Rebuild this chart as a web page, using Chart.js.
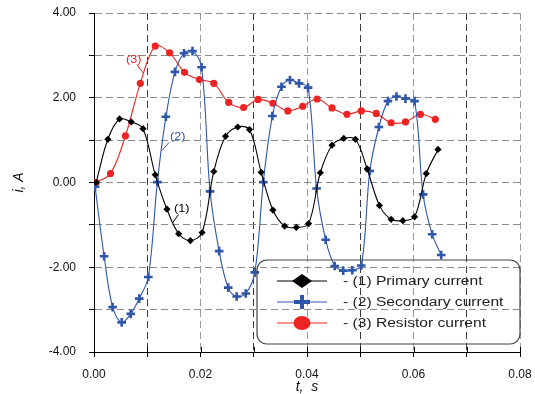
<!DOCTYPE html>
<html>
<head>
<meta charset="utf-8">
<script src="https://cdn.jsdelivr.net/npm/chart.js@4.4.0/dist/chart.umd.min.js"></script>
<style>
  html, body { margin: 0; padding: 0; background: #fff; }
</style>
</head>
<body>
<canvas id="currentChart" width="535" height="394"></canvas>
<script>
// time (s) and current (A)
const tPrimary = [0.0004, 0.0026, 0.0048, 0.0070, 0.0092, 0.0115, 0.0137, 0.0159, 0.0181, 0.0203,
  0.0225, 0.0247, 0.0270, 0.0292, 0.0314, 0.0336, 0.0358, 0.0380, 0.0403, 0.0425,
  0.0447, 0.0469, 0.0491, 0.0513, 0.0536, 0.0558, 0.0580, 0.0602, 0.0624, 0.0646];
const iPrimary = [0.00, 1.02, 1.50, 1.43, 1.27, 0.18, -0.63, -1.21, -1.37, -1.18,
  0.26, 1.09, 1.31, 1.25, 0.24, -0.65, -1.03, -1.06, -0.97, 0.23,
  0.88, 1.04, 1.02, 0.32, -0.54, -0.87, -0.90, -0.81, 0.21, 0.78];

const tSecondary = [0.0002, 0.0019, 0.0035, 0.0052, 0.0069, 0.0085, 0.0102, 0.0119, 0.0135, 0.0152,
  0.0169, 0.0185, 0.0202, 0.0218, 0.0235, 0.0252, 0.0268, 0.0285, 0.0302, 0.0318,
  0.0335, 0.0352, 0.0368, 0.0385, 0.0402, 0.0418, 0.0435, 0.0452, 0.0468, 0.0485,
  0.0502, 0.0518, 0.0535, 0.0552, 0.0568, 0.0585, 0.0602, 0.0618, 0.0635, 0.0652];
const iSecondary = [-0.10, -1.74, -2.94, -3.30, -3.10, -2.74, -2.23, 0.01, 1.55, 2.61,
  3.05, 3.10, 2.72, -0.21, -1.62, -2.48, -2.69, -2.62, -2.12, 0.01,
  1.57, 2.26, 2.42, 2.34, 2.24, -0.14, -1.35, -1.97, -2.08, -2.07,
  -1.96, 0.27, 1.31, 1.92, 2.03, 1.98, 1.92, -0.28, -1.22, -1.71];

const tResistor = [0.0004, 0.0031, 0.0059, 0.0087, 0.0115, 0.0142, 0.0170, 0.0198, 0.0225, 0.0253,
  0.0281, 0.0308, 0.0336, 0.0364, 0.0392, 0.0419, 0.0447, 0.0475, 0.0502, 0.0530,
  0.0558, 0.0585, 0.0613, 0.0641];
const iResistor = [0.00, 0.21, 1.10, 2.34, 3.22, 3.06, 2.60, 2.43, 2.34, 1.89,
  1.77, 1.96, 1.87, 1.69, 1.80, 1.97, 1.76, 1.61, 1.69, 1.63,
  1.41, 1.43, 1.61, 1.49];

const seriesNames = ['- (1) Primary current', '- (2) Secondary current', '- (3) Resistor current'];
const xTickLabels = ['0.00', '0.02', '0.04', '0.06', '0.08'];
const yTickLabels = ['-4.00', '-2.00', '0.00', '2.00', '4.00'];

const BLACK = '#000000';
const BLUE = '#2f56a8';
const RED = '#ee2424';
const FONT = '"Liberation Sans", Arial, sans-serif';

function toPoints(ts, vs) {
  return ts.map((t, i) => ({ x: t, y: vs[i] }));
}

// stretched text, the picture's lettering is a bit wide
function wideText(ctx, text, x, y, sx) {
  ctx.save();
  ctx.translate(x, y);
  ctx.scale(sx, 1);
  ctx.fillText(text, 0, 0);
  ctx.restore();
}

const overlayPlugin = {
  id: 'overlay',
  afterDatasetsDraw(chart) {
    const ctx = chart.ctx;
    ctx.save();

    // x ticks also poke up into the plot
    const xs = chart.scales.x;
    const bottom = chart.chartArea.bottom;
    ctx.strokeStyle = '#000';
    ctx.lineWidth = 1;
    xs.ticks.forEach(tk => {
      const px = Math.round(xs.getPixelForValue(tk.value)) + 0.5;
      ctx.beginPath();
      ctx.moveTo(px, bottom);
      ctx.lineTo(px, bottom - 5);
      ctx.stroke();
    });

    // curve labels with leader lines
    ctx.font = '11px ' + FONT;
    ctx.textBaseline = 'middle';
    const notes = [
      { txt: '(3)', color: RED, tx: 126, ty: 60, line: [137, 64.5, 143.5, 73.5] },
      { txt: '(2)', color: BLUE, tx: 170, ty: 137, line: [169, 142.5, 162, 150.5] },
      { txt: '(1)', color: BLACK, tx: 174, ty: 209, line: [178.5, 214.5, 172.5, 223] }
    ];
    notes.forEach(n => {
      ctx.fillStyle = n.color;
      ctx.strokeStyle = n.color;
      wideText(ctx, n.txt, n.tx, n.ty, 1.15);
      ctx.beginPath();
      ctx.moveTo(n.line[0], n.line[1]);
      ctx.lineTo(n.line[2], n.line[3]);
      ctx.stroke();
    });

    // legend box
    const bx = 257, by = 260, bw = 263, bh = 84, r = 10;
    ctx.strokeStyle = '#444';
    ctx.lineWidth = 1.2;
    ctx.beginPath();
    ctx.roundRect(bx, by, bw, bh, r);
    ctx.stroke();

    const rows = [281, 302, 323];
    const colors = [BLACK, BLUE, RED];
    rows.forEach((yy, k) => {
      ctx.strokeStyle = colors[k];
      ctx.fillStyle = colors[k];
      ctx.lineWidth = 1;
      ctx.beginPath();
      ctx.moveTo(277, yy);
      ctx.lineTo(327, yy);
      ctx.stroke();
      const cx = 302;
      if (k === 0) {
        ctx.beginPath();
        ctx.moveTo(cx - 10, yy);
        ctx.lineTo(cx, yy - 7);
        ctx.lineTo(cx + 10, yy);
        ctx.lineTo(cx, yy + 7);
        ctx.closePath();
        ctx.fill();
      } else if (k === 1) {
        ctx.lineWidth = 4;
        ctx.beginPath();
        ctx.moveTo(cx - 8, yy);
        ctx.lineTo(cx + 8, yy);
        ctx.moveTo(cx, yy - 7);
        ctx.lineTo(cx, yy + 7);
        ctx.stroke();
      } else {
        ctx.beginPath();
        ctx.ellipse(cx, yy, 8.5, 7, 0, 0, Math.PI * 2);
        ctx.fill();
      }
      ctx.fillStyle = '#222';
      ctx.font = '12px ' + FONT;
      wideText(ctx, seriesNames[k], 343, yy + 1, 1.3);
    });

    ctx.restore();
  }
};

const ctx = document.getElementById('currentChart').getContext('2d');

const chart = new Chart(ctx, {
  type: 'line',
  data: {
    datasets: [
      {
        label: seriesNames[0],
        data: toPoints(tPrimary, iPrimary),
        borderColor: BLACK,
        backgroundColor: BLACK,
        borderWidth: 1.1,
        pointStyle: 'rectRot',
        pointRadius: 3.6,
        pointBorderWidth: 0,
        tension: 0.35
      },
      {
        label: seriesNames[1],
        data: toPoints(tSecondary, iSecondary),
        borderColor: BLUE,
        backgroundColor: BLUE,
        borderWidth: 1.1,
        pointStyle: 'cross',
        pointRadius: 4.3,
        pointBorderWidth: 2.6,
        tension: 0.35
      },
      {
        label: seriesNames[2],
        data: toPoints(tResistor, iResistor),
        borderColor: RED,
        backgroundColor: RED,
        borderWidth: 1.1,
        pointStyle: 'circle',
        pointRadius: 3.6,
        pointBorderWidth: 0,
        tension: 0.35
      }
    ]
  },
  options: {
    responsive: false,
    animation: false,
    devicePixelRatio: 1,
    layout: { padding: { top: 13, right: 15, left: 0, bottom: 0 } },
    plugins: {
      legend: { display: false },
      tooltip: { enabled: false }
    },
    scales: {
      x: {
        type: 'linear',
        min: 0,
        max: 0.08,
        afterFit(scale) {
          scale.height = 42;
          scale.paddingLeft = 0;
          scale.paddingRight = 0;
        },
        ticks: {
          stepSize: 0.01,
          padding: 10,
          color: '#111',
          font: { family: FONT, size: 12 },
          maxRotation: 0,
          autoSkip: false,
          callback: (v) => {
            const s = v.toFixed(2);
            return xTickLabels.includes(s) ? s : '';
          }
        },
        grid: {
          color: (c) => (Math.round(c.tick.value * 100) % 2 === 1 ? '#3a3a3a' : '#9a9a9a'),
          lineWidth: 1,
          tickLength: 5,
          tickColor: '#000'
        },
        border: { display: true, color: '#000', width: 1, dash: [7, 4] },
        title: {
          display: true,
          text: 't,  s',
          color: '#111',
          font: { family: FONT, size: 14, style: 'italic', lineHeight: 1 },
          padding: 0
        }
      },
      y: {
        min: -4,
        max: 4,
        afterFit(scale) {
          scale.width = 94;
          scale.paddingTop = 0;
          scale.paddingBottom = 0;
        },
        ticks: {
          stepSize: 1,
          padding: 13,
          color: '#111',
          font: { family: FONT, size: 12 },
          callback: (v) => {
            const s = v.toFixed(2);
            return yTickLabels.includes(s) ? s : '';
          }
        },
        grid: {
          color: '#8a8a8a',
          lineWidth: 1,
          tickLength: 5,
          tickColor: '#000'
        },
        border: { display: true, color: '#000', width: 1, dash: [7, 4] },
        title: {
          display: true,
          text: 'i, A',
          color: '#111',
          font: { family: FONT, size: 14, style: 'italic' },
          padding: { top: 11, bottom: 0 }
        }
      }
    }
  },
  plugins: [overlayPlugin]
});
</script>
</body>
</html>
